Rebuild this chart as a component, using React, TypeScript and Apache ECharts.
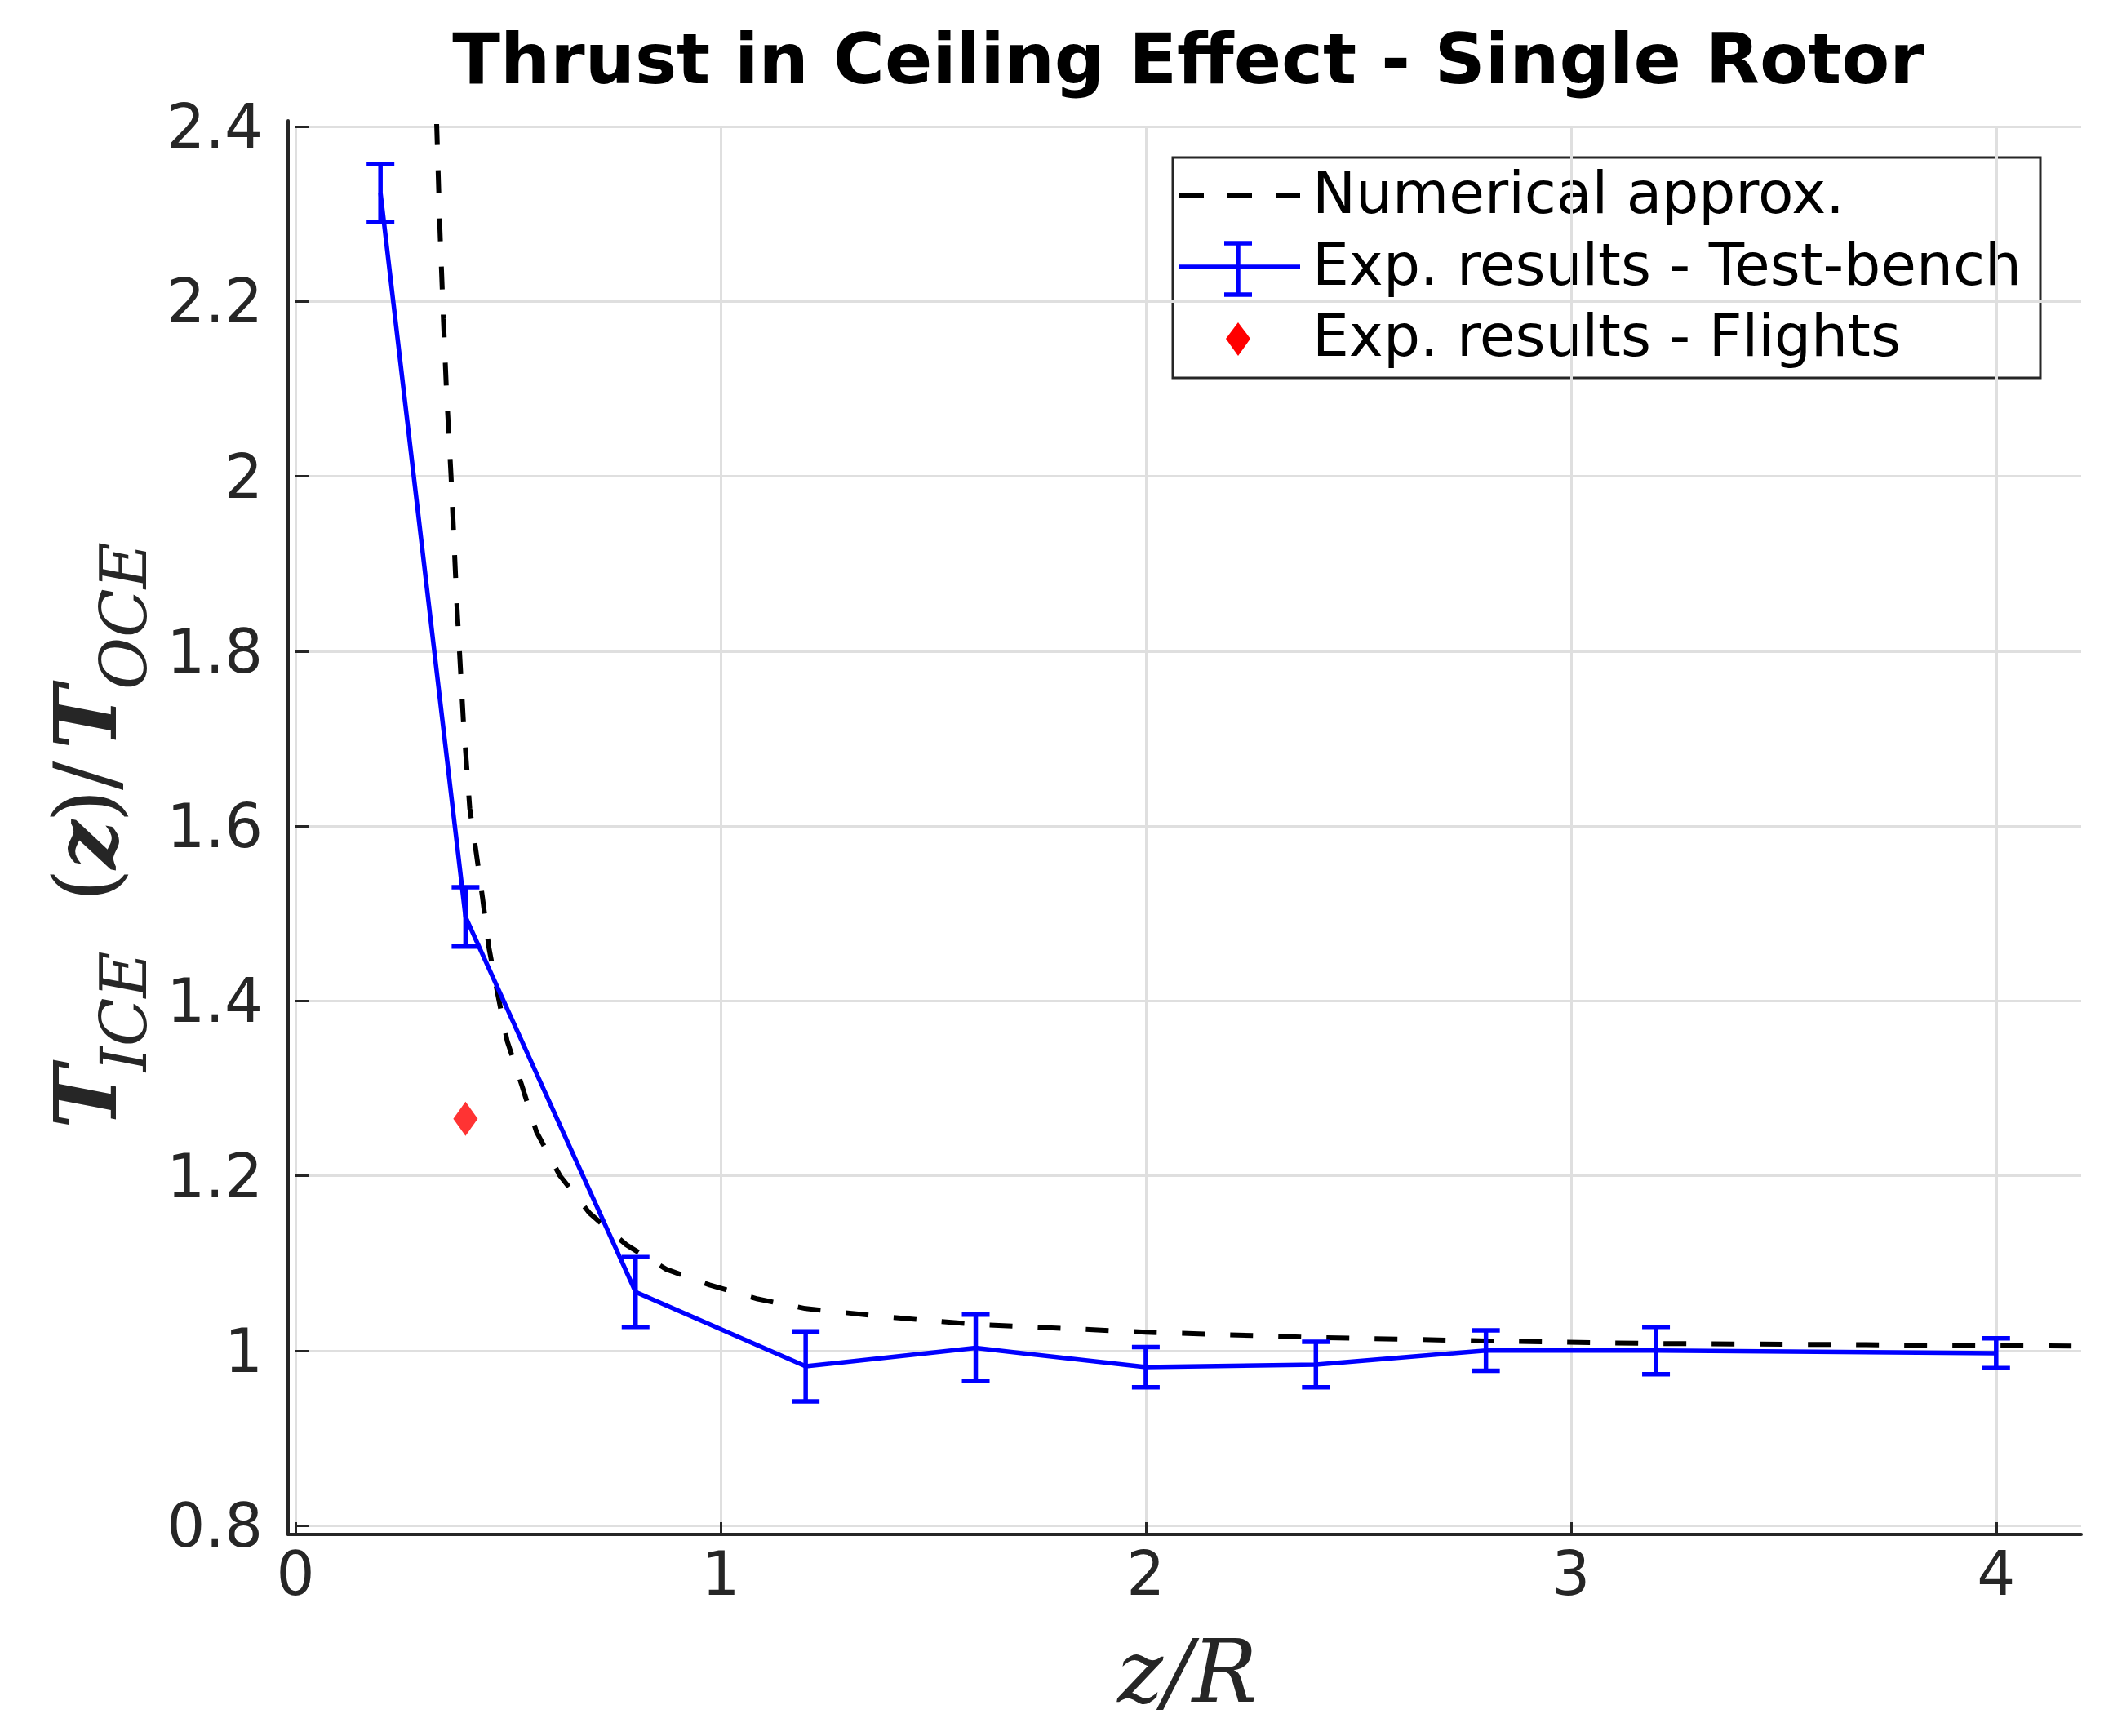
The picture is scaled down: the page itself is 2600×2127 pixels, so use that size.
import React, { useEffect, useRef } from "react";
import * as echarts from "echarts";

// ---- data ----
const benchX = [0.2, 0.4, 0.8, 1.2, 1.6, 2.0, 2.4, 2.8, 3.2, 4.0];
const benchY = [2.324, 1.496, 1.067, 0.982, 1.003, 0.981, 0.984, 1.0, 1.0, 0.997];
const benchErr = [0.033, 0.034, 0.04, 0.04, 0.038, 0.023, 0.026, 0.023, 0.027, 0.017];

const flightX = [0.4];
const flightY = [1.265];

const numX = [0.332, 0.34, 0.348, 0.355, 0.366, 0.38, 0.395, 0.41, 0.425, 0.44, 0.455, 0.476, 0.498, 0.532, 0.567, 0.622, 0.692, 0.778, 0.872, 0.974, 1.087, 1.2, 1.4, 1.6, 2.0, 2.4, 2.8, 3.2, 3.6, 4.2];
const numY = [2.405, 2.28, 2.18, 2.1, 2.0, 1.85, 1.72, 1.62, 1.57, 1.518, 1.461, 1.407, 1.354, 1.304, 1.25, 1.2, 1.157, 1.121, 1.093, 1.075, 1.059, 1.048, 1.038, 1.03, 1.021, 1.015, 1.011, 1.008, 1.007, 1.005];

const xTicks = [0, 1, 2, 3, 4];
const yMin = 0.8;
const yMax = 2.4;
const yStep = 0.2;
const xMin = 0;
const xMax = 4.2;

const titleText = "Thrust in Ceiling Effect - Single Rotor";
const legendNames = ["Numerical approx.", "Exp. results - Test-bench", "Exp. results - Flights"];

const AXIS = "#262626";
const GRIDC = "#dfdfdf";
const BLUE = "#0000ff";

export default function App() {
  const ref = useRef<HTMLDivElement>(null);

  useEffect(() => {
    if (!ref.current) return;
    const chart = echarts.init(ref.current, undefined, { renderer: "svg" });

    const benchData = benchX.map((x, i) => [x, benchY[i]]);
    const errData = benchX.map((x, i) => [x, benchY[i], benchErr[i]]);
    const numData = numX.map((x, i) => [x, numY[i]]);
    const flightData = flightX.map((x, i) => [x, flightY[i]]);

    const serif = "DejaVu Serif";
    const yLabelParts = [
      { text: "T", x: 0, y: 0, size: 105, weight: "bold", italic: true },
      { text: "ICE", x: 70, y: 47, size: 78, weight: "normal", italic: true },
      { text: "(", x: 278, y: 0, size: 105, weight: "normal", italic: false },
      { text: "z", x: 318, y: 0, size: 105, weight: "bold", italic: true },
      { text: ")", x: 375, y: 0, size: 105, weight: "normal", italic: false },
      { text: "/", x: 415, y: 0, size: 105, weight: "normal", italic: false },
      { text: "T", x: 465, y: 0, size: 105, weight: "bold", italic: true },
      { text: "OCE", x: 538, y: 47, size: 78, weight: "normal", italic: true },
    ];

    const legendFont = { fontFamily: "DejaVu Sans", fontSize: 71, fill: "#000" };

    const option: any = {
      animation: false,
      backgroundColor: "#ffffff",
      grid: [
        { left: 362, right: 50, top: 155, bottom: 258, containLabel: false },
        { left: 353, right: 50, top: 148, bottom: 247, containLabel: false },
      ],
      xAxis: [
        {
          type: "value",
          gridIndex: 0,
          min: xMin,
          max: xMax,
          interval: 1,
          offset: 11,
          axisLine: { show: false },
          axisTick: {
            show: true,
            inside: true,
            length: 15,
            customValues: xTicks,
            lineStyle: { color: AXIS, width: 3 },
          },
          axisLabel: {
            show: true,
            margin: 11,
            customValues: xTicks,
            fontSize: 74,
            fontFamily: "DejaVu Sans",
            color: AXIS,
          },
          splitLine: { show: true, lineStyle: { color: GRIDC, width: 3 } },
        },
        {
          type: "value",
          gridIndex: 1,
          min: 0,
          max: 1,
          axisLine: { show: true, onZero: false, lineStyle: { color: AXIS, width: 4 } },
          axisTick: { show: false },
          axisLabel: { show: false },
          splitLine: { show: false },
        },
      ],
      yAxis: [
        {
          type: "value",
          gridIndex: 0,
          min: yMin,
          max: yMax,
          interval: yStep,
          offset: 9,
          axisLine: { show: false },
          axisTick: { show: true, inside: true, length: 17, lineStyle: { color: AXIS, width: 3 } },
          axisLabel: {
            show: true,
            margin: 31,
            fontSize: 74,
            fontFamily: "DejaVu Sans",
            color: AXIS,
          },
          splitLine: { show: true, lineStyle: { color: GRIDC, width: 3 } },
        },
        {
          type: "value",
          gridIndex: 1,
          min: 0,
          max: 1,
          axisLine: { show: true, onZero: false, lineStyle: { color: AXIS, width: 4 } },
          axisTick: { show: false },
          axisLabel: { show: false },
          splitLine: { show: false },
        },
      ],
      series: [
        {
          name: legendNames[0],
          type: "line",
          xAxisIndex: 0,
          yAxisIndex: 0,
          data: numData,
          symbol: "none",
          smooth: false,
          lineStyle: { color: "#000", width: 6, type: [28, 31] },
          z: 2,
        },
        {
          name: legendNames[1],
          type: "line",
          xAxisIndex: 0,
          yAxisIndex: 0,
          data: benchData,
          symbol: "none",
          lineStyle: { color: BLUE, width: 5.5 },
          z: 3,
        },
        {
          name: legendNames[1] + " err",
          type: "custom",
          xAxisIndex: 0,
          yAxisIndex: 0,
          data: errData,
          encode: { x: 0, y: 1 },
          z: 3,
          renderItem: (params: any, api: any) => {
            const x = api.value(0);
            const y = api.value(1);
            const e = api.value(2);
            const top = api.coord([x, y + e]);
            const bot = api.coord([x, y - e]);
            const hw = 17;
            const st = { stroke: BLUE, lineWidth: 5.5 };
            return {
              type: "group",
              children: [
                { type: "line", shape: { x1: top[0], y1: top[1], x2: bot[0], y2: bot[1] }, style: st },
                { type: "line", shape: { x1: top[0] - hw, y1: top[1], x2: top[0] + hw, y2: top[1] }, style: st },
                { type: "line", shape: { x1: bot[0] - hw, y1: bot[1], x2: bot[0] + hw, y2: bot[1] }, style: st },
              ],
            };
          },
        },
        {
          name: legendNames[2],
          type: "scatter",
          xAxisIndex: 0,
          yAxisIndex: 0,
          data: flightData,
          symbol: "diamond",
          symbolSize: [30, 42],
          itemStyle: { color: "#ff0000" },
          z: 4,
        },
      ],
      graphic: [
        {
          type: "text",
          x: 1456,
          y: 72,
          z: 10,
          style: {
            text: titleText,
            fontFamily: "DejaVu Sans",
            fontWeight: "bold",
            fontSize: 86,
            fill: "#000",
            align: "center",
            verticalAlign: "middle",
            textAlign: "center",
            textVerticalAlign: "middle",
          },
        },
        {
          type: "text",
          x: 1455,
          y: 2048,
          z: 10,
          style: {
            text: "z/R",
            fontFamily: serif,
            fontStyle: "italic",
            fontSize: 106,
            fill: AXIS,
            align: "center",
            verticalAlign: "middle",
            textAlign: "center",
            textVerticalAlign: "middle",
          },
        },
        {
          type: "group",
          x: 105,
          y: 1383,
          rotation: Math.PI / 2,
          z: 10,
          children: yLabelParts.map((p) => ({
            type: "text",
            x: p.x,
            y: p.y,
            style: {
              text: p.text,
              fontFamily: serif,
              fontStyle: p.italic ? "italic" : "normal",
              fontWeight: p.weight,
              fontSize: p.size,
              fill: AXIS,
              align: "left",
              verticalAlign: "middle",
              textAlign: "left",
              textVerticalAlign: "middle",
            },
          })),
        },
        // legend box
        {
          type: "group",
          z: 20,
          children: [
            {
              type: "rect",
              shape: { x: 1437, y: 193, width: 1063, height: 270 },
              style: { fill: "#fff", stroke: AXIS, lineWidth: 3 },
            },
            {
              type: "line",
              shape: { x1: 1445, y1: 239, x2: 1593, y2: 239 },
              style: { stroke: "#000", lineWidth: 6, lineDash: [30, 29] },
            },
            {
              type: "line",
              shape: { x1: 1445, y1: 327, x2: 1593, y2: 327 },
              style: { stroke: BLUE, lineWidth: 5.5 },
            },
            {
              type: "line",
              shape: { x1: 1517, y1: 298, x2: 1517, y2: 361 },
              style: { stroke: BLUE, lineWidth: 5.5 },
            },
            {
              type: "line",
              shape: { x1: 1500, y1: 298, x2: 1534, y2: 298 },
              style: { stroke: BLUE, lineWidth: 5.5 },
            },
            {
              type: "line",
              shape: { x1: 1500, y1: 361, x2: 1534, y2: 361 },
              style: { stroke: BLUE, lineWidth: 5.5 },
            },
            {
              type: "polygon",
              shape: { points: [[1517, 395], [1532, 415], [1517, 436], [1502, 415]] },
              style: { fill: "#ff0000" },
            },
            {
              type: "text",
              x: 1608,
              y: 236,
              style: { ...legendFont, text: legendNames[0], verticalAlign: "middle", textVerticalAlign: "middle" },
            },
            {
              type: "text",
              x: 1608,
              y: 324,
              style: { ...legendFont, text: legendNames[1], verticalAlign: "middle", textVerticalAlign: "middle" },
            },
            {
              type: "text",
              x: 1608,
              y: 411,
              style: { ...legendFont, text: legendNames[2], verticalAlign: "middle", textVerticalAlign: "middle" },
            },
          ],
        },
      ],
    };

    chart.setOption(option);
    return () => chart.dispose();
  }, []);

  return (
    <div
      ref={ref}
      style={{ position: "absolute", left: 0, top: 0, width: 2600, height: 2127, background: "#fff" }}
    />
  );
}
